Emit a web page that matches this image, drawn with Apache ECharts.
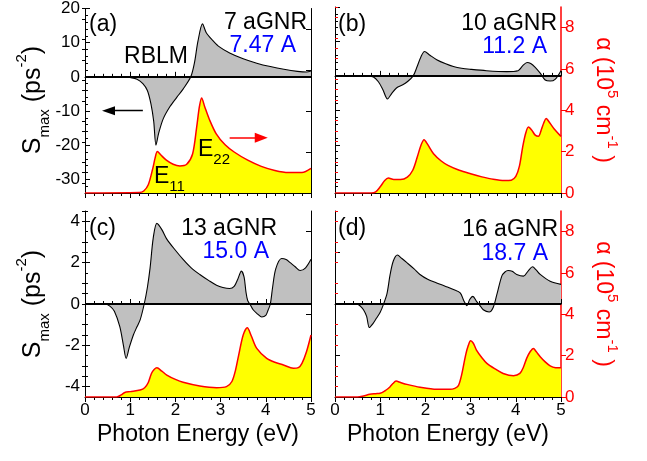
<!DOCTYPE html>
<html><head><meta charset="utf-8">
<script src="https://cdn.jsdelivr.net/npm/echarts@6/dist/echarts.min.js"></script>
<style>html,body{margin:0;padding:0;background:#fff}#c{width:647px;height:461px}</style>
</head><body><div id="c"></div>
<script>
// ---------- DATA ----------
const panelLabels = ['(a)', '(b)', '(c)', '(d)'];
const ribbonNames = ['7 aGNR', '10 aGNR', '13 aGNR', '16 aGNR'];
const ribbonWidths = ['7.47 A', '11.2 A', '15.0 A', '18.7 A'];
const xTicks = [0, 1, 2, 3, 4, 5];
const sTicksTop = [-30, -20, -10, 0, 10, 20];
const sTicksBottom = [-4, -2, 0, 2, 4];
const alphaTicks = [0, 2, 4, 6, 8];

// (a) 7 aGNR
const aS_E = [0, 0.85, 1.0, 1.15, 1.28, 1.38, 1.46, 1.52, 1.57, 1.63, 1.73, 1.88, 2.03, 2.17, 2.34, 2.42, 2.5, 2.6, 2.68, 2.8, 2.95, 3.2, 3.5, 3.8, 4.1, 4.4, 4.7, 4.9, 5.0];
const aS_V = [0, 0, -0.2, -0.7, -2, -4, -8, -13, -20, -16.5, -12.3, -8.7, -6, -3.6, 0, 4.0, 10.5, 15.5, 13, 11, 9, 7, 5.3, 4.0, 3.0, 2.2, 1.6, 1.4, 1.7];
const aA_E = [0, 1.2, 1.3, 1.4, 1.5, 1.55, 1.6, 1.68, 1.8, 1.95, 2.1, 2.25, 2.38, 2.47, 2.53, 2.58, 2.65, 2.75, 2.9, 3.1, 3.3, 3.6, 3.9, 4.2, 4.5, 4.8, 5.0];
const aA_V = [0, 0.02, 0.1, 0.4, 1.2, 1.7, 2.03, 1.85, 1.6, 1.4, 1.32, 1.4, 1.9, 3.2, 4.2, 4.64, 4.2, 3.6, 2.9, 2.35, 2.0, 1.6, 1.3, 1.1, 1.0, 1.0, 1.2];
// (b) 10 aGNR
const bS_E = [0, 0.7, 0.85, 0.96, 1.06, 1.16, 1.26, 1.36, 1.5, 1.6, 1.73, 1.82, 1.9, 1.98, 2.1, 2.25, 2.45, 2.62, 2.8, 3.0, 3.35, 3.8, 4.05, 4.15, 4.25, 4.33, 4.43, 4.54, 4.65, 4.76, 4.87, 5.0];
const bS_V = [0, 0, -0.3, -1.7, -4, -6.7, -5, -3.5, -2.6, -1.7, 0, 2.8, 5.5, 7.1, 6.0, 4.7, 3.5, 2.7, 2.2, 1.9, 1.5, 1.25, 1.5, 2.9, 3.9, 3.6, 2.5, 0.8, -1.2, -1.5, -1.0, 1.5];
const bA_E = [0, 0.8, 0.9, 1.0, 1.1, 1.18, 1.3, 1.45, 1.6, 1.72, 1.82, 1.9, 1.97, 2.05, 2.18, 2.35, 2.5, 2.75, 3.0, 3.25, 3.5, 3.75, 3.9, 4.0, 4.08, 4.15, 4.22, 4.28, 4.35, 4.43, 4.5, 4.57, 4.62, 4.67, 4.75, 4.85, 5.0];
const bA_V = [0, 0, 0.05, 0.3, 0.6, 0.72, 0.65, 0.65, 0.77, 1.1, 1.74, 2.3, 2.58, 2.35, 1.9, 1.55, 1.34, 1.1, 0.93, 0.78, 0.66, 0.6, 0.62, 0.8, 1.3, 2.2, 2.9, 3.19, 3.05, 2.8, 2.74, 3.1, 3.4, 3.6, 3.4, 3.1, 2.74];
// (c) 13 aGNR
const cS_E = [0, 0.44, 0.55, 0.65, 0.77, 0.85, 0.91, 0.98, 1.07, 1.15, 1.22, 1.31, 1.38, 1.44, 1.51, 1.59, 1.7, 1.81, 2.0, 2.17, 2.35, 2.54, 2.75, 2.91, 3.05, 3.2, 3.3, 3.38, 3.46, 3.52, 3.56, 3.6, 3.66, 3.72, 3.8, 3.91, 4.0, 4.05, 4.1, 4.15, 4.22, 4.35, 4.45, 4.54, 4.65, 4.76, 4.88, 5.0];
const cS_V = [0, 0, -0.1, -0.35, -1.1, -2.0, -2.63, -2.1, -1.5, -1.1, -0.77, 0, 0.8, 1.75, 3.2, 3.9, 3.6, 3.14, 2.6, 2.16, 1.75, 1.43, 1.12, 0.91, 0.8, 0.75, 0.85, 1.2, 1.59, 1.3, 0.6, 0.16, -0.05, -0.28, -0.45, -0.63, -0.55, -0.3, 0, 0.8, 1.7, 2.2, 2.15, 2.0, 1.8, 1.62, 1.75, 2.16];
const cA_E = [0, 0.7, 0.8, 0.88, 1.0, 1.22, 1.32, 1.4, 1.47, 1.53, 1.59, 1.7, 1.81, 2.0, 2.17, 2.54, 2.91, 3.13, 3.25, 3.33, 3.4, 3.5, 3.59, 3.68, 3.8, 4.02, 4.2, 4.39, 4.61, 4.72, 4.8, 4.9, 5.0];
const cA_V = [0, 0, 0.1, 0.22, 0.26, 0.34, 0.45, 0.7, 1.14, 1.33, 1.41, 1.25, 1.06, 0.85, 0.71, 0.53, 0.45, 0.5, 0.75, 1.3, 2.03, 3.0, 3.35, 2.95, 2.35, 1.87, 1.68, 1.55, 1.39, 1.42, 1.63, 2.19, 3.0];
// (d) 16 aGNR
const dS_E = [0, 0.48, 0.56, 0.63, 0.7, 0.76, 0.84, 0.92, 1.0, 1.07, 1.15, 1.22, 1.29, 1.38, 1.48, 1.59, 1.75, 1.88, 2.05, 2.25, 2.45, 2.62, 2.77, 2.85, 2.92, 2.98, 3.05, 3.13, 3.2, 3.28, 3.41, 3.5, 3.58, 3.69, 3.76, 3.83, 3.92, 4.02, 4.17, 4.28, 4.37, 4.45, 4.54, 4.76, 5.0];
const dS_V = [0, 0, -0.1, -0.28, -0.6, -1.14, -0.95, -0.68, -0.4, -0.03, 0.5, 1.43, 2.08, 2.37, 2.2, 2.0, 1.7, 1.43, 1.2, 1.02, 0.85, 0.7, 0.54, 0.16, -0.08, 0.22, 0.37, 0.13, -0.05, -0.28, -0.39, -0.17, 0.45, 1.35, 1.55, 1.62, 1.58, 1.43, 1.35, 1.62, 1.8, 1.65, 1.43, 1.1, 0.95];
const dA_E = [0, 0.5, 0.63, 0.77, 0.9, 1.0, 1.1, 1.17, 1.22, 1.28, 1.35, 1.45, 1.59, 1.88, 2.25, 2.54, 2.65, 2.73, 2.8, 2.89, 2.95, 3.0, 3.06, 3.13, 3.25, 3.36, 3.55, 3.72, 3.95, 4.09, 4.17, 4.24, 4.32, 4.39, 4.45, 4.54, 4.65, 4.76, 4.88, 5.0];
const dA_V = [0, 0, 0.05, 0.13, 0.16, 0.18, 0.29, 0.4, 0.5, 0.65, 0.77, 0.7, 0.61, 0.47, 0.37, 0.37, 0.42, 0.55, 1.06, 2.03, 2.5, 2.72, 2.6, 2.27, 1.9, 1.63, 1.35, 1.14, 1.03, 1.14, 1.45, 1.87, 2.2, 2.35, 2.2, 1.95, 1.7, 1.51, 1.42, 1.41];

// ---------- BUILD ----------
const FONT = 'Liberation Sans, Arial, sans-serif';
const pairs = (E, V) => E.map((e, i) => [e, V[i]]);
const range = (a, b, s, skip) => { const r = []; for (let v = a; v <= b + 1e-9; v += s) { const x = Math.round(v * 100) / 100; if (!skip.some(k => Math.abs(k - x) < 1e-6)) r.push(x); } return r; };

const panels = [
  { left: 85, top: 7, sMin: -34, sMax: 20, sMaj: sTicksTop, sMin2: range(-34, 20, 2, sTicksTop), showS: true, showA: false, showX: false, S: pairs(aS_E, aS_V), A: pairs(aA_E, aA_V) },
  { left: 335, top: 7, sMin: -34, sMax: 20, sMaj: sTicksTop, sMin2: range(-34, 20, 2, sTicksTop), showS: false, showA: true, showX: false, S: pairs(bS_E, bS_V), A: pairs(bA_E, bA_V) },
  { left: 85, top: 211, sMin: -4.5, sMax: 4.5, sMaj: sTicksBottom, sMin2: range(-4.5, 4.5, 0.5, sTicksBottom), showS: true, showA: false, showX: true, S: pairs(cS_E, cS_V), A: pairs(cA_E, cA_V) },
  { left: 335, top: 211, sMin: -4.5, sMax: 4.5, sMaj: [-2.5, 2.5], sMin2: [], showS: false, showA: true, showX: true, S: pairs(dS_E, dS_V), A: pairs(dA_E, dA_V) }
];
const alphaMinor = range(0, 9, 0.5, alphaTicks);

const grid = [], xAxis = [], yAxis = [], series = [];
panels.forEach((p, i) => {
  grid.push({ left: p.left, top: p.top, width: 226, height: 186 });
  const xBase = { type: 'value', gridIndex: i, min: 0, max: 5, interval: 1,
    axisLine: { show: true, lineStyle: { color: '#000', width: 1 } },
    axisTick: { inside: true, length: 5, lineStyle: { color: '#000' } },
    minorTick: { show: true, splitNumber: 5, length: 3, lineStyle: { color: '#000' } },
    splitLine: { show: false }, minorSplitLine: { show: false } };
  xAxis.push(Object.assign({}, xBase, { position: 'bottom',
    axisLabel: { show: p.showX, fontSize: 17, color: '#000', fontFamily: FONT, margin: 5 } }));
  xAxis.push(Object.assign({}, xBase, { position: 'top', axisLabel: { show: false } }));
  const red = p.showA;
  yAxis.push({ type: 'value', gridIndex: i, position: 'left', min: p.sMin, max: p.sMax,
    axisLine: { show: true, onZero: false, lineStyle: { color: '#000', width: 1 } },
    axisTick: { show: true, inside: true, length: 5, customValues: p.sMaj, lineStyle: { color: '#000' } },
    axisLabel: { show: p.showS, customValues: p.sMaj, fontSize: 17, color: '#000', fontFamily: FONT, margin: 5 },
    splitLine: { show: false } });
  yAxis.push({ type: 'value', gridIndex: i, position: 'right', min: 0, max: 9,
    axisLine: { show: true, onZero: false, lineStyle: { color: red ? '#ff0000' : '#000', width: red ? 1.5 : 1 } },
    axisTick: { show: true, inside: !red, length: 5, customValues: alphaTicks, lineStyle: { color: red ? '#ff0000' : '#000' } },
    axisLabel: { show: red, customValues: alphaTicks, fontSize: 17, color: '#ff0000', fontFamily: FONT, margin: 4 },
    splitLine: { show: false } });
  yAxis.push({ type: 'value', gridIndex: i, position: 'left', min: p.sMin, max: p.sMax,
    axisLine: { show: false }, axisLabel: { show: false }, splitLine: { show: false },
    axisTick: { show: p.sMin2.length > 0, inside: true, length: 3, customValues: p.sMin2, lineStyle: { color: '#000' } } });
  yAxis.push({ type: 'value', gridIndex: i, position: 'right', min: 0, max: 9,
    axisLine: { show: false }, axisLabel: { show: false }, splitLine: { show: false },
    axisTick: { show: true, inside: !red, length: 3, customValues: alphaMinor, lineStyle: { color: red ? '#ff0000' : '#000' } } });

  const alphaSeries = { type: 'line', xAxisIndex: 2 * i, yAxisIndex: 4 * i + 1, data: p.A,
    smooth: 0.3, showSymbol: false, symbol: 'none', z: 2, silent: true,
    lineStyle: { color: '#ff0000', width: 1.5 },
    areaStyle: { color: '#ffff00', opacity: 1, origin: 'start' } };
  const sSeries = { type: 'line', xAxisIndex: 2 * i, yAxisIndex: 4 * i, data: p.S,
    smooth: 0.3, showSymbol: false, symbol: 'none', z: 3, silent: true,
    lineStyle: { color: '#000', width: 1.1 },
    areaStyle: { color: '#c0c0c0', opacity: 1, origin: 0 },
    markLine: { silent: true, symbol: 'none', label: { show: false }, animation: false,
      lineStyle: { color: '#000', width: 2, type: 'solid' },
      data: [{ yAxis: 0 }] } };
  if (i === 0) {
    sSeries.markLine.data.push([
      { coord: [1.28, -9.9], symbol: 'none', lineStyle: { color: '#000', width: 1.3, type: 'solid' } },
      { coord: [0.52, -9.9], symbol: 'triangle', symbolSize: [9, 13] }
    ]);
    alphaSeries.markLine = { silent: true, label: { show: false }, animation: false, symbol: 'none',
      lineStyle: { color: '#ff0000', width: 1.5, type: 'solid' },
      data: [[
        { coord: [3.2, 2.69], symbol: 'none' },
        { coord: [3.9, 2.69], symbol: 'triangle', symbolSize: [10, 13] }
      ]] };
  }
  series.push(alphaSeries, sSeries);
});

const txt = (x, y, text, opts) => ({ type: 'text', x, y, silent: true, z: 100,
  style: Object.assign({ text, fontFamily: FONT, fontSize: 23, fill: '#000', align: 'left', verticalAlign: 'middle' }, opts || {}) });

const graphic = [
  txt(89, 25, panelLabels[0]), txt(338, 25, panelLabels[1]), txt(89, 229, panelLabels[2]), txt(338, 229, panelLabels[3]),
  txt(307, 23, ribbonNames[0], { align: 'right' }), txt(296, 46, ribbonWidths[0], { align: 'right', fill: '#0000ff' }),
  txt(557, 24, ribbonNames[1], { align: 'right' }), txt(547, 47, ribbonWidths[1], { align: 'right', fill: '#0000ff' }),
  txt(277, 229, ribbonNames[2], { align: 'right' }), txt(269, 252, ribbonWidths[2], { align: 'right', fill: '#0000ff' }),
  txt(558, 230, ribbonNames[3], { align: 'right' }), txt(548, 254, ribbonWidths[3], { align: 'right', fill: '#0000ff' }),
  txt(156, 57, 'RBLM', { align: 'center' }),
  txt(154, 177, '{a|E}{b|11}', { rich: { a: { fontSize: 23, lineHeight: 34, verticalAlign: 'middle', fontFamily: FONT }, b: { fontSize: 15, lineHeight: 15, verticalAlign: 'bottom', fontFamily: FONT } } }),
  txt(198, 150, '{a|E}{b|22}', { rich: { a: { fontSize: 23, lineHeight: 34, verticalAlign: 'middle', fontFamily: FONT }, b: { fontSize: 15, lineHeight: 15, verticalAlign: 'bottom', fontFamily: FONT } } }),
  txt(198, 435, 'Photon Energy (eV)', { align: 'center' }),
  txt(448, 435, 'Photon Energy (eV)', { align: 'center' })
];
const sTitle = { text: '{a|S}{b|max}{a| (ps}{c|-2}{a|)}', align: 'center', verticalAlign: 'middle', fill: '#000', fontFamily: FONT,
  rich: { a: { fontSize: 25, lineHeight: 38, verticalAlign: 'middle', fontFamily: FONT },
          b: { fontSize: 15, lineHeight: 15, verticalAlign: 'bottom', fontFamily: FONT },
          c: { fontSize: 15, lineHeight: 15, verticalAlign: 'top', fontFamily: FONT } } };
const aTitle = { text: '{a|α (10}{c|5}{a| cm}{c|-1}{a| )}', align: 'center', verticalAlign: 'middle', fill: '#ff0000', fontFamily: FONT,
  rich: { a: { fontSize: 23, lineHeight: 34, verticalAlign: 'middle', fontFamily: FONT },
          c: { fontSize: 15, lineHeight: 15, verticalAlign: 'top', fontFamily: FONT } } };
[100, 304].forEach(y => {
  graphic.push({ type: 'text', x: 33, y, rotation: Math.PI / 2, silent: true, style: Object.assign({}, sTitle) });
  graphic.push({ type: 'text', x: 603, y, rotation: -Math.PI / 2, silent: true, style: Object.assign({}, aTitle) });
});

const chart = echarts.init(document.getElementById('c'), null, { renderer: 'canvas' });
chart.setOption({ animation: false, backgroundColor: '#fff', textStyle: { fontFamily: FONT },
  grid, xAxis, yAxis, series, graphic });
</script></body></html>
